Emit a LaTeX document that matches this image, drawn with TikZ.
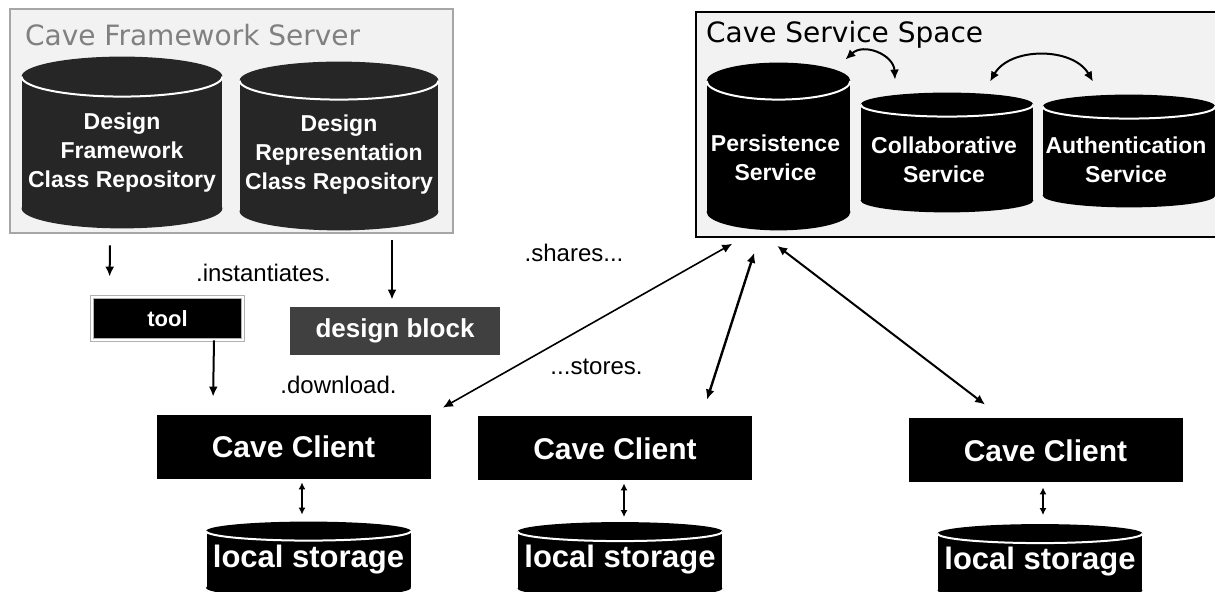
\documentclass[tikz,border=0pt]{standalone}
\usepackage{fontspec}
\setmainfont{Liberation Sans}
\newfontfamily\titlefont{DejaVu Sans}
\usetikzlibrary{positioning,calc,arrows.meta}

\begin{document}
\begin{tikzpicture}[x=0.5pt,y=0.5pt,
panel/.style={draw,fill=gray!10,line width=0.8pt,inner sep=0pt},
title/.style={anchor=west,font=\titlefont\fontsize{14}{16}\selectfont},
db/.style={fill=black,inner sep=0pt,minimum width=#1},
dbtext/.style={text=white,align=center,font=\bfseries\fontsize{11.5}{14.5}\selectfont},
box/.style={fill=black,text=white,font=\bfseries\fontsize{15}{18}\selectfont,inner sep=0pt},
client/.style={box,minimum width=137pt,minimum height=32pt},
store/.style={db=102pt,minimum height=28pt,text=white,font=\bfseries\fontsize{15.5}{18}\selectfont},
note/.style={font=\fontsize{12}{14}\selectfont},
edge/.style={-{Latex[length=5pt,width=4.5pt]},line width=1pt},
both/.style={{Latex[length=5pt,width=4.5pt]}-{Latex[length=5pt,width=4.5pt]},line width=1pt},
short/.style={{Latex[length=3.5pt,width=3.5pt]}-{Latex[length=3.5pt,width=3.5pt]},line width=1pt}]

\useasboundingbox (0,0) rectangle (1215,592);

% framework server
\node[panel,draw=gray!70,minimum width=221.5pt,minimum height=112pt] (fws) at (231.5,471) {};
\node[title,text=gray] (fwtitle) at (18,557) {Cave Framework Server};
\node[db=100pt,fill=black!85,minimum height=65.5pt] (fw1) at (122,449.5) {};
\node[db=99pt,fill=black!85,minimum height=65pt] (fw2) at (339,446) {};

% service space
\node[panel,minimum width=261pt,minimum height=112.5pt] (css) at (957,467.5) {};
\node[title] (csstitle) at (699,557) {Cave Service Space};
\node[db=71.5pt,minimum height=65pt] (pers) at (778.5,445.5) {};
\node[db=86pt,minimum height=47.5pt] (collab) at (947,439.5) {};
\node[db=86pt,minimum height=44pt] (auth) at (1129,441) {};

% instances
\node[box,font=\bfseries\fontsize{11}{13}\selectfont,minimum width=75.5pt,minimum height=21.5pt,
  draw=gray!60,double=white,double distance=0.8pt] (tool) at (167.5,273.5) {tool};
\node[box,fill=black!75,font=\bfseries\fontsize{13}{15}\selectfont,minimum width=105pt,minimum height=24pt] (block) at (395,261) {design block};

% clients
\node[client] (client1) at (293.5,145) {Cave Client};
\node[client] (client2) at (615,143.5) {Cave Client};
\node[client] (client3) at (1045.5,141.5) {Cave Client};

\node[store] (store1) at (308.5,32.5) {local storage};
\node[store] (store2) at (620,32) {local storage};
\node[store] (store3) at (1040,30) {local storage};

% cylinder ends and rims
\foreach \cyl/\ry/\c in {fw1/10pt/black!85,fw2/9.5pt/black!85,pers/9.25pt/black,collab/6pt/black,
    auth/6pt/black,store1/4.75pt/black,store2/4.75pt/black,store3/4.75pt/black}{
  \fill[\c] let \p1=($(\cyl.east)-(\cyl.west)$) in
    (\cyl.south) ellipse [x radius=0.5*\x1,y radius=\ry]
    (\cyl.north) ellipse [x radius=0.5*\x1,y radius=\ry];
  \draw[white,line width=1pt] let \p1=($(\cyl.east)-(\cyl.west)$) in
    (\cyl.north west) arc [start angle=180,end angle=360,x radius=0.5*\x1,y radius=\ry];
}

% cylinder labels
\node[dbtext] (fw1txt) at ($(fw1)+(0,-10.5)$) {Design\\Framework\\Class Repository};
\node[dbtext] (fw2txt) at ($(fw2)+(0,-8.5)$) {Design\\Representation\\Class Repository};
\node[dbtext] (perstxt) at ($(pers)+(-3,-11.5)$) {Persistence\\Service};
\node[dbtext] (collabtxt) at ($(collab)+(-3,-7.5)$) {Collaborative\\Service};
\node[dbtext] (authtxt) at ($(auth)+(-3,-9)$) {Authentication\\Service};

% labels
\node[note] (inst) at (263.5,319) {.instantiates.};
\node[note] (down) at (338.5,207) {.download.};
\node[note] (shares) at (574,339) {.shares...};
\node[note] (stores) at (596.5,225) {...stores.};

% arrows
\draw[edge] ($(fw1.south)+(-12,-37)$) -- ($(tool.north west)+(18,20)$);
\draw[edge] ($(tool.south)+(46.5,0)$) -- ($(client1.north west)+(57,18)$);
\draw[edge] ($(fw2.south)+(53,-29)$) -- ($(block.north)+(-3,7)$);

\draw[both,line width=0.8pt] ($(css.south west)+(37,-6)$) -- ($(client1.north east)+(12,7)$);
\draw[both,line width=1.2pt] ($(css.south west)+(59,-15)$) -- ($(client2.north)+(92,16.5)$);
\draw[both] ($(css.south west)+(82,-8)$) -- ($(client3.north west)+(77,13.5)$);

\draw[short] ($(client1.south)+(8.5,-3)$) -- ($(store1.north)+(-6.5,16.5)$);
\draw[short] ($(client2.south)+(9,-2.5)$) -- ($(store2.north)+(4,14.5)$);
\draw[short] ($(client3.south)+(-2.5,-4.5)$) -- ($(store3.north)+(3,18.5)$);

\draw[both] ($(pers.north east)+(-5,21.5)$) to[bend left=65,looseness=1.2] ($(collab.north)+(-52,25)$);
\draw[both] ($(collab.north)+(43,23)$) to[bend left=60] ($(auth.north)+(-36,25)$);
\end{tikzpicture}
\end{document}
